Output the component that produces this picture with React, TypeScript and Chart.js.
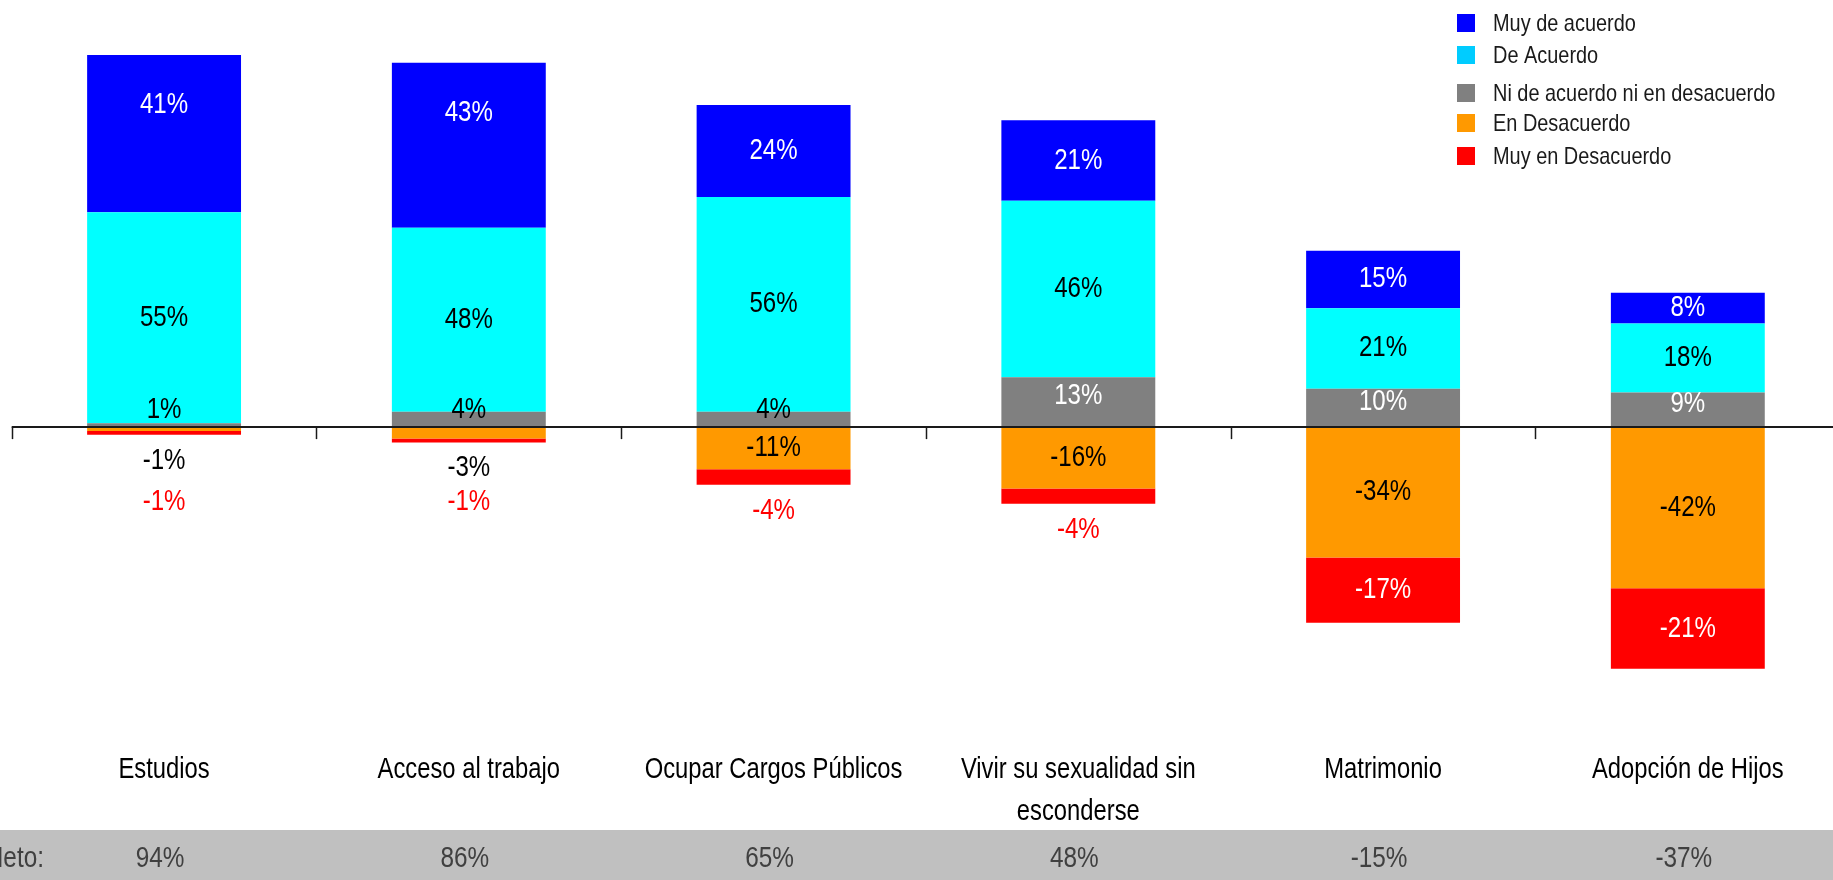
import React, { useEffect, useRef } from "react";
import { Chart, registerables } from "chart.js";

Chart.register(...registerables);

const categories: string[][] = [
  ["Estudios"],
  ["Acceso al trabajo"],
  ["Ocupar Cargos Públicos"],
  ["Vivir su sexualidad sin", "esconderse"],
  ["Matrimonio"],
  ["Adopción de Hijos"],
];
const muyDeAcuerdo = [41, 43, 24, 21, 15, 8];
const deAcuerdo = [55, 48, 56, 46, 21, 18];
const niAcuerdoNiDesacuerdo = [1, 4, 4, 13, 10, 9];
const enDesacuerdo = [-1, -3, -11, -16, -34, -42];
const muyEnDesacuerdo = [-1, -1, -4, -4, -17, -21];
const neto = [94, 86, 65, 48, -15, -37];
const netoTitle = "Neto:";

const seriesNames = [
  "Muy de acuerdo",
  "De Acuerdo",
  "Ni de acuerdo ni en desacuerdo",
  "En Desacuerdo",
  "Muy en Desacuerdo",
];

const FONT = "'Liberation Sans', Arial, sans-serif";

const COLORS = {
  muy: "#0000FF",
  de: "#00FFFF",
  ni: "#808080",
  en: "#FF9900",
  muyEn: "#FF0000",
};
const LEGEND_COLORS = ["#0000FF", "#00CCFF", "#808080", "#FF9900", "#FF0000"];

const pct = (v: number) => `${v}%`;

function narrowText(ctx: CanvasRenderingContext2D, text: string, x: number, y: number, align: CanvasTextAlign, sx: number) {
  ctx.save();
  ctx.translate(x, y);
  ctx.scale(sx, 1);
  ctx.textAlign = align;
  ctx.textBaseline = "middle";
  ctx.fillText(text, 0, 0);
  ctx.restore();
}

const overlayPlugin = {
  id: "overlay",
  beforeDraw(chart: any) {
    const { ctx, width, height, scales } = chart;
    const x = scales.x;
    ctx.save();
    // Neto band
    ctx.fillStyle = "#C0C0C0";
    ctx.fillRect(0, 830, width, height - 830);
    ctx.fillStyle = "#404040";
    ctx.font = `29px ${FONT}`;
    narrowText(ctx, netoTitle, 44, 859, "right", 0.84);
    neto.forEach((v, i) => {
      narrowText(ctx, pct(v), x.getPixelForValue(i) - 4, 859, "center", 0.84);
    });
    // category labels
    ctx.fillStyle = "#000000";
    ctx.font = `29px ${FONT}`;
    categories.forEach((lines, i) => {
      lines.forEach((line, k) => {
        narrowText(ctx, line, x.getPixelForValue(i), 770 + k * 42, "center", 0.82);
      });
    });
    ctx.restore();
  },
  afterDatasetsDraw(chart: any) {
    const { ctx, chartArea, scales } = chart;
    const x = scales.x;
    const y = scales.y;
    const zero = y.getPixelForValue(0);
    ctx.save();
    // zero line
    ctx.strokeStyle = "#1a1a1a";
    ctx.lineWidth = 2;
    ctx.beginPath();
    ctx.moveTo(chartArea.left, zero);
    ctx.lineTo(chartArea.right, zero);
    ctx.stroke();
    // boundary ticks
    const n = categories.length;
    ctx.lineWidth = 1.5;
    for (let i = 0; i <= n; i++) {
      let bx: number;
      if (i === 0) bx = x.getPixelForValue(0) - (x.getPixelForValue(1) - x.getPixelForValue(0)) / 2;
      else if (i === n) bx = x.getPixelForValue(n - 1) + (x.getPixelForValue(n - 1) - x.getPixelForValue(n - 2)) / 2;
      else bx = (x.getPixelForValue(i - 1) + x.getPixelForValue(i)) / 2;
      bx = Math.round(bx) + 0.5;
      ctx.beginPath();
      ctx.moveTo(bx, zero);
      ctx.lineTo(bx, zero + 12);
      ctx.stroke();
    }

    // data labels
    const LS = 0.83;
    ctx.font = `29px ${FONT}`;
    const metas = [0, 1, 2, 3, 4].map((i) => chart.getDatasetMeta(i));
    // dataset order: 0 ni, 1 de, 2 muy, 3 en, 4 muyEn
    for (let j = 0; j < n; j++) {
      const niEl = metas[0].data[j];
      const deEl = metas[1].data[j];
      const muyEl = metas[2].data[j];
      const enEl = metas[3].data[j];
      const muyEnEl = metas[4].data[j];
      const cx = niEl.x;
      const bottom = Math.max(enEl.y, muyEnEl.y);

      // muy de acuerdo
      const muyTop = Math.min(muyEl.y, muyEl.base);
      const muyCenter = (muyEl.y + muyEl.base) / 2;
      ctx.fillStyle = "#FFFFFF";
      narrowText(ctx, pct(muyDeAcuerdo[j]), cx, Math.min(muyCenter, muyTop + 50), "center", LS);

      // de acuerdo
      ctx.fillStyle = "#000000";
      narrowText(ctx, pct(deAcuerdo[j]), cx, (deEl.y + deEl.base) / 2, "center", LS);

      // ni
      const niVal = niAcuerdoNiDesacuerdo[j];
      const niCenter = (niEl.y + niEl.base) / 2;
      ctx.fillStyle = niVal < 5 ? "#000000" : "#FFFFFF";
      narrowText(ctx, pct(niVal), cx, Math.min(niCenter - 6, zero - 17), "center", LS);

      // en desacuerdo
      const enVal = enDesacuerdo[j];
      ctx.fillStyle = "#000000";
      const enSmall = Math.abs(enVal) < 5;
      const enY = enSmall ? bottom + 26 : (enEl.y + enEl.base) / 2;
      narrowText(ctx, pct(enVal), cx, enY, "center", LS);

      // muy en desacuerdo
      const meVal = muyEnDesacuerdo[j];
      if (Math.abs(meVal) < 10) {
        ctx.fillStyle = "#FF0000";
        const yy = enSmall ? Math.max(bottom + 26, zero + 75) : bottom + 26;
        narrowText(ctx, pct(meVal), cx, yy, "center", LS);
      } else {
        ctx.fillStyle = "#FFFFFF";
        narrowText(ctx, pct(meVal), cx, (muyEnEl.y + muyEnEl.base) / 2, "center", LS);
      }
    }

    // legend
    const boxTops = [14, 46, 84, 114, 147];
    ctx.font = `24px ${FONT}`;
    seriesNames.forEach((name, i) => {
      ctx.fillStyle = LEGEND_COLORS[i];
      ctx.fillRect(1457, boxTops[i], 18, 18);
      ctx.fillStyle = "#1a1a1a";
      narrowText(ctx, name, 1493, boxTops[i] + 10, "left", 0.83);
    });
    ctx.restore();
  },
};

export default function App() {
  const ref = useRef<HTMLCanvasElement | null>(null);
  useEffect(() => {
    if (!ref.current) return;
    const chart = new Chart(ref.current, {
      type: "bar",
      data: {
        labels: categories.map((l) => l.join(" ")),
        datasets: [
          { label: seriesNames[2], data: niAcuerdoNiDesacuerdo, backgroundColor: COLORS.ni },
          { label: seriesNames[1], data: deAcuerdo, backgroundColor: COLORS.de },
          { label: seriesNames[0], data: muyDeAcuerdo, backgroundColor: COLORS.muy },
          { label: seriesNames[3], data: enDesacuerdo, backgroundColor: COLORS.en },
          { label: seriesNames[4], data: muyEnDesacuerdo, backgroundColor: COLORS.muyEn },
        ],
      },
      options: {
        responsive: false,
        animation: false,
        devicePixelRatio: 1,
        layout: { padding: { left: 11.7, right: 9.8, top: 43.5, bottom: 146 } },
        datasets: {
          bar: { barPercentage: 0.505, categoryPercentage: 1.0, borderWidth: 0 },
        },
        plugins: {
          legend: { display: false },
          tooltip: { enabled: false },
          title: { display: false },
        },
        scales: {
          x: {
            stacked: true,
            grid: { display: false, drawTicks: false },
            border: { display: false },
            ticks: { display: false },
          },
          y: {
            stacked: true,
            display: false,
            min: -80,
            max: 100,
          },
        },
      },
      plugins: [overlayPlugin],
    });
    return () => chart.destroy();
  }, []);
  return (
    <div style={{ position: "absolute", left: 0, top: 0, width: 1833, height: 880, overflow: "hidden", background: "#fff" }}>
      <canvas ref={ref} width={1850} height={880} style={{ width: 1850, height: 880, display: "block" }} />
    </div>
  );
}
